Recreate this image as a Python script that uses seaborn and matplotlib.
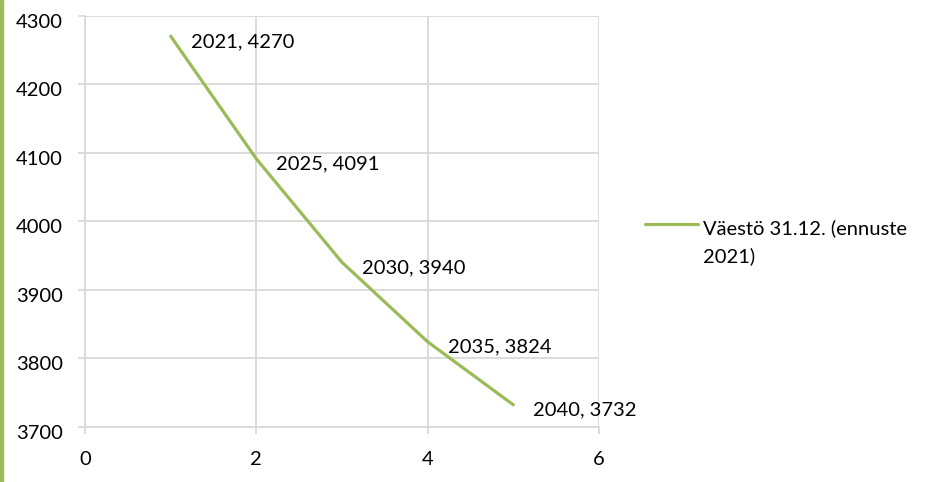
import matplotlib
matplotlib.use("Agg")
import matplotlib.pyplot as plt
import matplotlib.transforms as mtransforms
import pandas as pd
import seaborn as sns
from matplotlib.lines import Line2D
from matplotlib.patches import Rectangle

# data
x_pos = [1, 2, 3, 4, 5]
years = [2021, 2025, 2030, 2035, 2040]
population = [4270, 4091, 3940, 3824, 3732]
series_name = "Väestö 31.12. (ennuste\n2021)"

LINE_GREEN = "#9BBB59"
GRID = "#D9D9D9"
FS = 14.5

sns.set_theme(style="white")
plt.rcParams["font.family"] = ["Lato", "DejaVu Sans"]

df = pd.DataFrame({"x": x_pos, "pop": population, "year": years})

fig = plt.figure(figsize=(9.42, 4.82), dpi=100)
ax = fig.add_axes([0.0902, 0.1147, 0.5456, 0.853])

sns.lineplot(data=df, x="x", y="pop", ax=ax, color=LINE_GREEN, linewidth=2.3,
             legend=False)

for _, r in df.iterrows():
    ax.annotate(f"{int(r['year'])}, {int(r['pop'])}", (r["x"], r["pop"]),
                xytext=(14.5, -4), textcoords="offset points",
                ha="left", va="center", fontsize=FS, color="black")

ax.set_xlim(0, 6)
ax.set_ylim(3700, 4300)
ax.set_xticks([0, 2, 4, 6])
ax.set_yticks(range(3700, 4301, 100))
ax.set_xlabel("")
ax.set_ylabel("")
ax.grid(True, color=GRID, linewidth=1.3)
for side in ["top", "right"]:
    ax.spines[side].set_visible(False)
for side in ["left", "bottom"]:
    ax.spines[side].set_color(GRID)
    ax.spines[side].set_linewidth(1.3)
ax.tick_params(axis="both", which="both", length=5, width=1.3, color=GRID,
               labelsize=FS, labelcolor="black", left=True, bottom=True)
ax.tick_params(axis="y", pad=11)
ax.tick_params(axis="x", pad=12.5)

# Excel draws the value labels a bit below their gridlines
shift = mtransforms.ScaledTranslation(0, -5 / 100, fig.dpi_scale_trans)
for lab in ax.get_yticklabels():
    lab.set_transform(lab.get_transform() + shift)

# legend: line sample level with the first text line
fig.add_artist(Line2D([0.6847, 0.741], [0.5353, 0.5353], transform=fig.transFigure,
                      color=LINE_GREEN, linewidth=2.3))
fig.text(0.7463, 0.4564, series_name, ha="left", va="baseline", fontsize=FS,
         linespacing=1.66, color="black")

# green accent bar on the left edge
fig.patches.append(Rectangle((0, 0), 0.0036, 1, transform=fig.transFigure,
                             color=LINE_GREEN, zorder=0))

fig.savefig("out.png", dpi=100)
